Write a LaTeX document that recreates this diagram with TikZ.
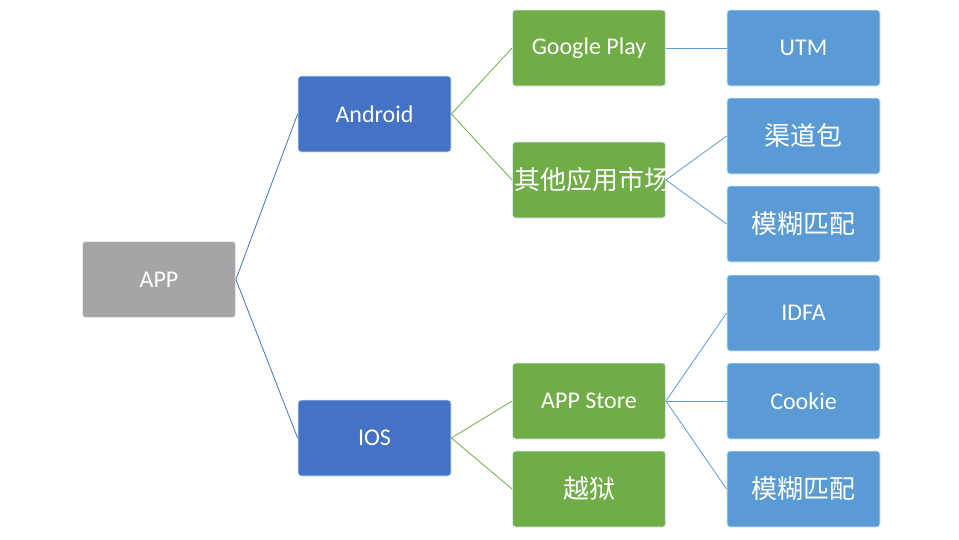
\documentclass[tikz,border=0pt]{standalone}
\usepackage{fontspec}
\setmainfont{Carlito}
\newfontfamily\cjk{Noto Sans CJK SC}
\definecolor{cgray}{HTML}{A5A5A5}
\definecolor{cblue}{HTML}{4472C4}
\definecolor{cgreen}{HTML}{70AD47}
\definecolor{clight}{HTML}{5B9BD5}
\begin{document}
\begin{tikzpicture}[x=1pt,y=-1pt,
 box/.style={draw=white!80!clight,line width=0.8pt,rounded corners=3pt,minimum width=153pt,minimum height=76pt,inner sep=2pt,text=white,font=\fontsize{24}{28}\selectfont,align=center},
 zh/.style={font=\fontsize{26}{32}\cjk},
 link/.style={line width=0.8pt}]
\useasboundingbox (0,0) rectangle (959,539);
\node[box,fill=cgray] (app) at (159,279.5) {APP};
\node[box,fill=cblue] (android) at (374.5,114) {Android};
\node[box,fill=cblue] (ios) at (374.5,438) {IOS};
\node[box,fill=cgreen] (gp) at (589,48) {Google Play};
\node[box,fill=cgreen,zh,text width=149pt] (other) at (589,180) {其他应用市场};
\node[box,fill=cgreen] (store) at (589,401) {APP Store};
\node[box,fill=cgreen,zh] (jb) at (589,489) {越狱};
\node[box,fill=clight] (utm) at (803.5,48) {UTM};
\node[box,fill=clight,zh] (qd) at (803.5,136) {渠道包};
\node[box,fill=clight,zh] (mh1) at (803.5,224) {模糊匹配};
\node[box,fill=clight] (idfa) at (803.5,313) {IDFA};
\node[box,fill=clight] (cookie) at (803.5,401) {Cookie};
\node[box,fill=clight,zh] (mh2) at (803.5,489) {模糊匹配};
\draw[link,cblue] (app.east) -- (android.west);
\draw[link,cblue] (app.east) -- (ios.west);
\draw[link,cgreen] (android.east) -- (gp.west);
\draw[link,cgreen] (android.east) -- (other.west);
\draw[link,cgreen] (ios.east) -- (store.west);
\draw[link,cgreen] (ios.east) -- (jb.west);
\draw[link,clight] (gp.east) -- (utm.west);
\draw[link,clight] (other.east) -- (qd.west);
\draw[link,clight] (other.east) -- (mh1.west);
\draw[link,clight] (store.east) -- (idfa.west);
\draw[link,clight] (store.east) -- (cookie.west);
\draw[link,clight] (store.east) -- (mh2.west);
\end{tikzpicture}
\end{document}
